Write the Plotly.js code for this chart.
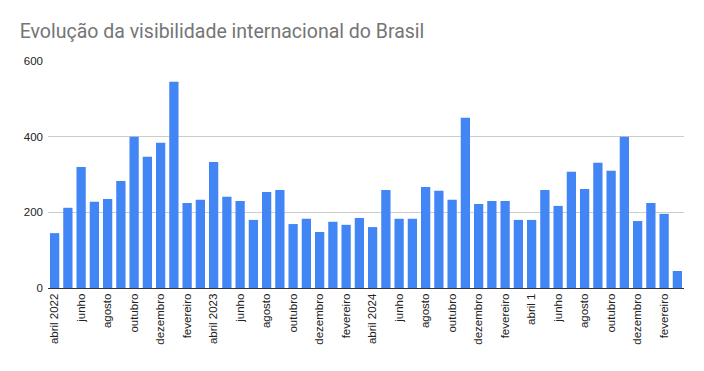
<!DOCTYPE html>
<html><head><meta charset="utf-8">
<script src="https://cdn.plot.ly/plotly-3.0.1.min.js"></script>
<style>html,body{margin:0;padding:0;background:#fff}#c{width:704px;height:371px}</style>
</head><body><div id="c"></div>
<script>
const months = ["abr 2022","mai 2022","jun 2022","jul 2022","ago 2022","set 2022","out 2022","nov 2022","dez 2022","jan 2023","fev 2023","mar 2023",
"abr 2023","mai 2023","jun 2023","jul 2023","ago 2023","set 2023","out 2023","nov 2023","dez 2023","jan 2024","fev 2024","mar 2024",
"abr 2024","mai 2024","jun 2024","jul 2024","ago 2024","set 2024","out 2024","nov 2024","dez 2024","jan 2025","fev 2025","mar 2025",
"abr 2025","mai 2025","jun 2025","jul 2025","ago 2025","set 2025","out 2025","nov 2025","dez 2025","jan 2026","fev 2026","mar 2026"];
const values = [145,212,320,228,235,283,400,347,384,545,225,233,
333,241,230,180,254,259,169,183,148,175,167,185,
161,259,183,183,267,257,233,450,222,230,230,180,
180,259,217,307,262,331,310,400,177,225,196,45];
const tickLabels = ["abril 2022","junho","agosto","outubro","dezembro","fevereiro",
"abril 2023","junho","agosto","outubro","dezembro","fevereiro",
"abril 2024","junho","agosto","outubro","dezembro","fevereiro",
"abril 1","junho","agosto","outubro","dezembro","fevereiro"];
const tickVals = tickLabels.map((t,i)=>months[i*2]);

Plotly.newPlot('c',[{
  type:'bar', x:months, y:values, marker:{color:'#4285f4'}, hoverinfo:'x+y'
}],{
  width:704,height:371,
  margin:{l:48,r:20,t:61,b:83},
  paper_bgcolor:'#fff',plot_bgcolor:'#fff',
  bargap:0.3,
  title:{text:'Evolução da visibilidade internacional do Brasil',x:0.028,xanchor:'left',y:0.915,yanchor:'middle',
    font:{family:'Roboto, Arial, sans-serif',size:19.5,color:'#757575'}},
  font:{family:'Arial, Liberation Sans, sans-serif',size:11,color:'#222'},
  xaxis:{type:'category',tickmode:'array',tickvals:tickVals,ticktext:tickLabels,tickangle:-90,
    showline:true,linecolor:'#333',linewidth:1,ticks:'',showgrid:false,tickfont:{size:11.5,color:'#222'}},
  yaxis:{range:[0,600],tickvals:[0,200,400,600],gridcolor:'#cccccc',zeroline:false,
    showline:false,ticks:'',tickfont:{size:11.5,color:'#222'},ticklabelstandoff:4},
  showlegend:false
},{displayModeBar:false,staticPlot:true});
</script></body></html>
